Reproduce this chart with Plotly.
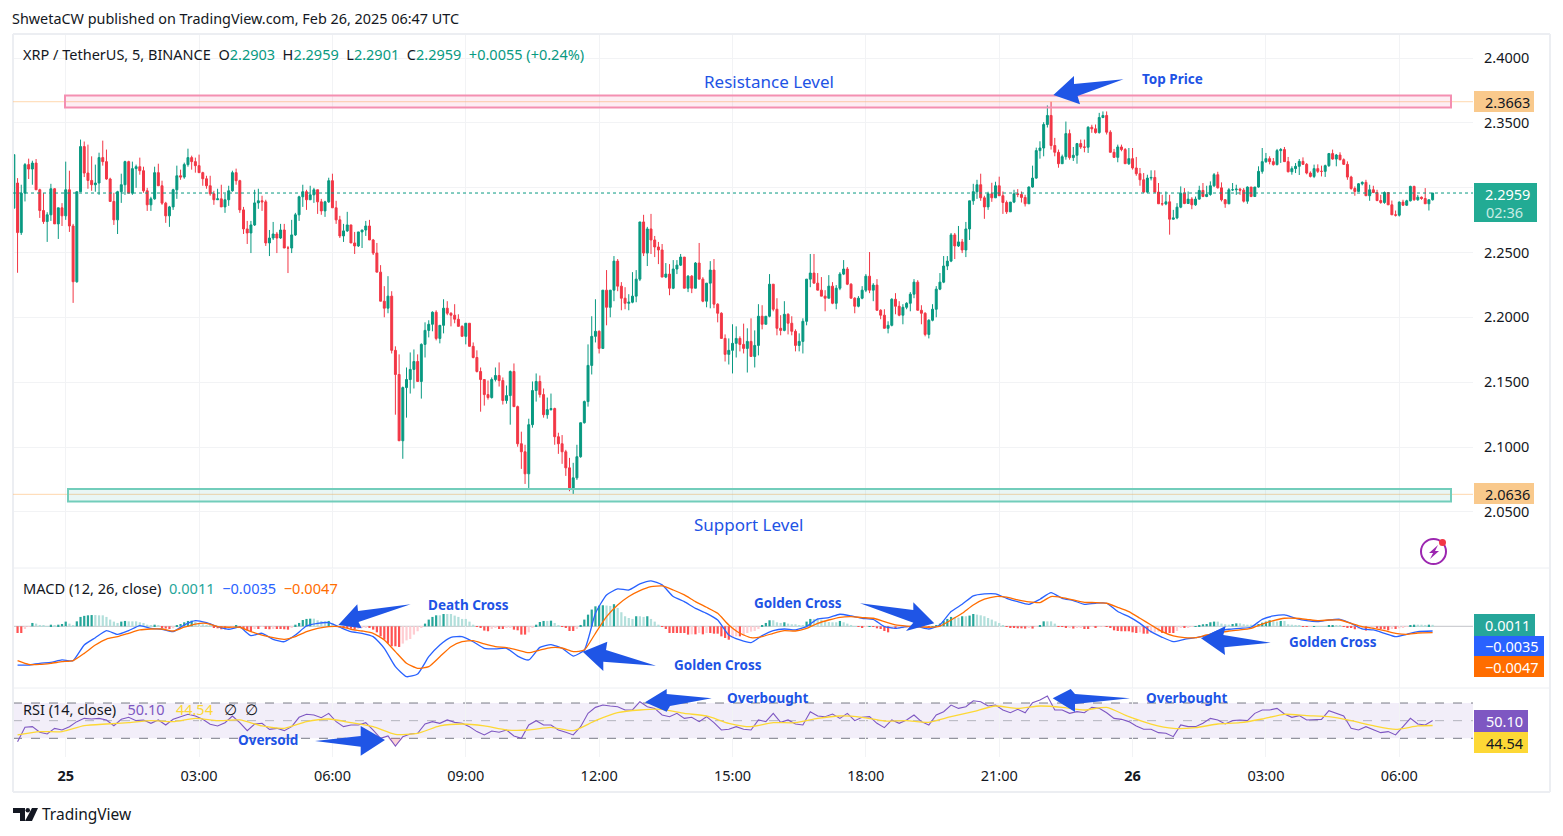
import pandas as pd
import plotly.graph_objects as go
from plotly.subplots import make_subplots

W, H = 1563, 836
FONT = "Noto Sans"
BLUE_TXT = "#1e53e5"
INK = "#131722"

# 5 minute candles
first_open = 2.3036
closes = [
    2.2654,2.2958,2.3178,2.3144,2.3190,2.2984,2.2824,2.2739,2.2791,2.2992,
    2.2721,2.2845,2.2783,2.2984,2.2705,2.2275,2.2969,2.3317,2.3113,2.3056,
    2.3023,2.3036,2.3232,2.3201,2.3067,2.2894,2.2752,2.2969,2.3023,2.3201,
    2.2958,2.3147,2.3162,2.3131,2.2976,2.2868,2.2914,2.3116,2.3015,2.2881,
    2.2783,2.2852,2.2984,2.3092,2.3082,2.3178,2.3232,2.3201,2.3170,2.3116,
    2.3069,2.3015,2.2953,2.2907,2.2914,2.2852,2.2907,2.2976,2.3116,2.3054,
    2.2829,2.2682,2.2651,2.2713,2.2883,2.2899,2.2891,2.2574,2.2612,2.2643,
    2.2612,2.2674,2.2535,2.2535,2.2636,2.2791,2.2930,2.2969,2.2907,2.2945,
    2.2984,2.2891,2.2821,2.2891,2.3054,2.2845,2.2752,2.2628,2.2667,2.2713,
    2.2574,2.2551,2.2659,2.2674,2.2705,2.2597,2.2496,2.2349,2.2125,2.2071,
    2.2164,2.1746,2.1560,2.1049,2.1459,2.1521,2.1599,2.1660,2.1506,2.1792,
    2.1900,2.1947,2.2040,2.1838,2.1939,2.2071,2.2032,2.2017,2.1986,2.1931,
    2.1854,2.1955,2.1777,2.1691,2.1583,2.1521,2.1405,2.1382,2.1521,2.1552,
    2.1513,2.1359,2.1397,2.1583,2.1312,2.1026,2.0964,2.0794,2.1173,2.1436,
    2.1506,2.1405,2.1250,2.1289,2.1297,2.1080,2.1026,2.0964,2.0840,2.0685,
    2.0763,2.0926,2.1188,2.1351,2.1630,2.1854,2.1893,2.1761,2.2210,2.2078,
    2.2210,2.2434,2.2241,2.2148,2.2109,2.2117,2.2164,2.2295,2.2736,2.2496,
    2.2682,2.2597,2.2543,2.2520,2.2311,2.2334,2.2225,2.2373,2.2403,2.2465,
    2.2225,2.2318,2.2225,2.2419,2.2295,2.2125,2.2264,2.2365,2.2102,2.2032,
    2.1838,2.1715,2.1746,2.1800,2.1838,2.1792,2.1761,2.1815,2.1699,2.1784,
    2.2009,2.1947,2.2009,2.2256,2.2063,2.1916,2.1900,2.2024,2.1955,2.1893,
    2.1784,2.1815,2.1970,2.2295,2.2342,2.2264,2.2210,2.2164,2.2148,2.2241,
    2.2109,2.2225,2.2334,2.2373,2.2256,2.2148,2.2086,2.2148,2.2210,2.2318,
    2.2210,2.2249,2.2055,2.2017,2.1916,2.1939,2.2140,2.2086,2.2017,2.2078,
    2.2109,2.2179,2.2272,2.2055,2.2032,2.1869,2.1978,2.2063,2.2218,2.2272,
    2.2396,2.2434,2.2636,2.2551,2.2582,2.2520,2.2682,2.2899,2.2969,2.3023,
    2.2922,2.2852,2.2953,2.2922,2.3015,2.2938,2.2886,2.2814,2.2889,2.2953,
    2.2948,2.2925,2.2876,2.3005,2.3074,2.3286,2.3306,2.3487,2.3557,2.3325,
    2.3273,2.3185,2.3239,2.3417,2.3232,2.3250,2.3340,2.3314,2.3312,2.3466,
    2.3454,2.3425,2.3541,2.3557,2.3428,2.3273,2.3234,2.3314,2.3294,2.3185,
    2.3224,2.3152,2.3108,2.3061,2.2966,2.3074,2.3079,2.2966,2.2876,2.2875,
    2.2891,2.2757,2.2767,2.2850,2.2958,2.2878,2.2912,2.2868,2.2912,2.2979,
    2.2932,2.2948,2.3015,2.3100,2.2999,2.2907,2.2876,2.2984,2.2984,2.2989,
    2.2981,2.2896,2.3005,2.2932,2.3005,2.3126,2.3201,2.3224,2.3201,2.3178,
    2.3286,2.3294,2.3201,2.3123,2.3147,2.3165,2.3203,2.3180,2.3113,2.3087,
    2.3147,2.3126,2.3126,2.3170,2.3263,2.3221,2.3252,2.3216,2.3180,2.3082,
    2.2994,2.2971,2.3030,2.3041,2.2938,2.2984,2.2963,2.2901,2.2886,2.2963,
    2.2868,2.2791,2.2788,2.2889,2.2865,2.2899,2.3010,2.2907,2.2927,2.2917,
    2.2876,2.2907,2.2959,
]
highs = [
    2.3074,2.3023,2.3190,2.3224,2.3208,2.3221,2.2992,2.2958,2.2811,2.3030,
    2.2997,2.2845,2.2881,2.3201,2.3131,2.2721,2.2969,2.3371,2.3356,2.3332,
    2.3242,2.3178,2.3270,2.3363,2.3294,2.3077,2.2961,2.2976,2.3108,2.3208,
    2.3208,2.3201,2.3178,2.3232,2.3162,2.2999,2.2930,2.3162,2.3185,2.3054,
    2.2891,2.2860,2.2992,2.3170,2.3139,2.3193,2.3301,2.3247,2.3232,2.3255,
    2.3123,2.3092,2.3092,2.2976,2.2992,2.3023,2.2953,2.3015,2.3131,2.3147,
    2.3061,2.2852,2.2744,2.2744,2.2984,2.2992,2.2938,2.2907,2.2674,2.2736,
    2.2659,2.2721,2.2721,2.2551,2.2752,2.2806,2.2938,2.3023,2.2984,2.3015,
    2.2999,2.2984,2.2914,2.2899,2.3077,2.3108,2.2899,2.2783,2.2721,2.2814,
    2.2713,2.2659,2.2659,2.2674,2.2744,2.2752,2.2605,2.2574,2.2403,2.2241,
    2.2318,2.2202,2.1777,2.1715,2.1467,2.1614,2.1730,2.1753,2.1715,2.1800,
    2.1962,2.1978,2.2047,2.2055,2.1939,2.2140,2.2125,2.2040,2.2102,2.2024,
    2.1939,2.1955,2.1955,2.1807,2.1746,2.1614,2.1521,2.1513,2.1537,2.1614,
    2.1653,2.1537,2.1475,2.1591,2.1645,2.1320,2.1119,2.1018,2.1219,2.1506,
    2.1568,2.1552,2.1452,2.1382,2.1413,2.1304,2.1111,2.1093,2.0979,2.0917,
    2.0879,2.1018,2.1188,2.1359,2.1792,2.2009,2.2140,2.1900,2.2210,2.2365,
    2.2210,2.2473,2.2450,2.2272,2.2233,2.2179,2.2349,2.2365,2.2736,2.2791,
    2.2698,2.2798,2.2628,2.2582,2.2566,2.2419,2.2411,2.2442,2.2442,2.2489,
    2.2465,2.2326,2.2326,2.2427,2.2574,2.2310,2.2264,2.2434,2.2450,2.2109,
    2.2040,2.1869,2.1838,2.1947,2.1931,2.1854,2.1952,2.1916,2.1993,2.1900,
    2.2102,2.2094,2.2009,2.2334,2.2256,2.2148,2.2017,2.2125,2.2032,2.2009,
    2.1908,2.1877,2.1993,2.2295,2.2489,2.2489,2.2342,2.2311,2.2210,2.2326,
    2.2272,2.2249,2.2349,2.2442,2.2388,2.2264,2.2156,2.2164,2.2241,2.2334,
    2.2504,2.2264,2.2295,2.2063,2.2063,2.1970,2.2148,2.2187,2.2125,2.2102,
    2.2117,2.2195,2.2295,2.2287,2.2094,2.2040,2.1986,2.2102,2.2241,2.2342,
    2.2473,2.2473,2.2651,2.2651,2.2705,2.2605,2.2736,2.2899,2.3030,2.3061,
    2.3108,2.2938,2.2969,2.3038,2.3046,2.3085,2.2971,2.2901,2.2889,2.2984,
    2.2989,2.2971,2.2945,2.3010,2.3170,2.3309,2.3358,2.3505,2.3634,2.3663,
    2.3384,2.3294,2.3255,2.3510,2.3448,2.3314,2.3345,2.3371,2.3371,2.3474,
    2.3485,2.3487,2.3577,2.3588,2.3588,2.3443,2.3299,2.3332,2.3332,2.3306,
    2.3306,2.3306,2.3237,2.3152,2.3113,2.3100,2.3134,2.3134,2.3036,2.2945,
    2.2971,2.2945,2.2829,2.2881,2.3010,2.2997,2.2971,2.2927,2.2932,2.3015,
    2.3036,2.3015,2.3049,2.3113,2.3123,2.3041,2.2912,2.2997,2.3036,2.3023,
    2.2999,2.2997,2.3010,2.3005,2.3005,2.3165,2.3306,2.3268,2.3242,2.3229,
    2.3299,2.3306,2.3314,2.3237,2.3165,2.3190,2.3221,2.3234,2.3190,2.3126,
    2.3178,2.3180,2.3170,2.3178,2.3268,2.3294,2.3260,2.3273,2.3226,2.3203,
    2.3092,2.3010,2.3036,2.3049,2.3061,2.3023,2.3015,2.2984,2.2945,2.2971,
    2.2966,2.2901,2.2824,2.2894,2.2907,2.2907,2.3015,2.3015,2.2945,2.2932,
    2.2997,2.2907,2.2959,
]
lows = [
    2.2344,2.2636,2.2894,2.3067,2.3023,2.2984,2.2767,2.2721,2.2582,2.2744,
    2.2721,2.2605,2.2705,2.2752,2.2659,2.2112,2.2267,2.2966,2.3082,2.2992,
    2.2976,2.2969,2.2945,2.3170,2.3061,2.2894,2.2713,2.2643,2.2883,2.2945,
    2.2958,2.2945,2.2999,2.3100,2.2961,2.2821,2.2821,2.2907,2.3015,2.2868,
    2.2729,2.2698,2.2829,2.2914,2.3061,2.3069,2.3162,2.3139,2.3116,2.3116,
    2.3015,2.2992,2.2938,2.2868,2.2907,2.2852,2.2806,2.2860,2.2969,2.3023,
    2.2806,2.2643,2.2566,2.2496,2.2705,2.2837,2.2821,2.2551,2.2473,2.2597,
    2.2496,2.2605,2.2535,2.2342,2.2496,2.2628,2.2744,2.2852,2.2829,2.2907,
    2.2883,2.2798,2.2791,2.2775,2.2883,2.2845,2.2721,2.2612,2.2582,2.2659,
    2.2574,2.2489,2.2543,2.2535,2.2628,2.2597,2.2481,2.2349,2.2125,2.2001,
    2.2032,2.1722,2.1250,2.1049,2.0910,2.1227,2.1413,2.1452,2.1506,2.1374,
    2.1691,2.1846,2.1893,2.1823,2.1800,2.1877,2.2017,2.1931,2.1955,2.1931,
    2.1854,2.1792,2.1777,2.1684,2.1575,2.1273,2.1320,2.1366,2.1374,2.1506,
    2.1467,2.1328,2.1335,2.1173,2.1312,2.1003,2.0832,2.0716,2.0685,2.1150,
    2.1351,2.1382,2.1227,2.1219,2.1281,2.1018,2.0948,2.0871,2.0778,2.0660,
    2.0639,2.0747,2.0918,2.1181,2.1312,2.1560,2.1807,2.1722,2.1761,2.1939,
    2.2001,2.2125,2.2202,2.2055,2.2063,2.2055,2.2109,2.2117,2.2280,2.2473,
    2.2396,2.2489,2.2465,2.2411,2.2311,2.2303,2.2171,2.2218,2.2334,2.2396,
    2.2225,2.2195,2.2187,2.2225,2.2295,2.2117,2.2078,2.2070,2.2071,2.1962,
    2.1838,2.1660,2.1637,2.1568,2.1691,2.1738,2.1722,2.1575,2.1699,2.1614,
    2.1707,2.1908,2.1947,2.2001,2.2047,2.1862,2.1862,2.1893,2.1869,2.1862,
    2.1738,2.1738,2.1722,2.1939,2.2233,2.2264,2.2210,2.2164,2.2047,2.2148,
    2.2102,2.2063,2.2210,2.2326,2.2249,2.2148,2.2032,2.2078,2.2140,2.2195,
    2.2187,2.2125,2.2055,2.1986,2.1916,2.1877,2.1931,2.2024,2.2009,2.1947,
    2.2063,2.2047,2.2148,2.2055,2.1947,2.1854,2.1838,2.1970,2.2001,2.2210,
    2.2264,2.2365,2.2426,2.2450,2.2543,2.2496,2.2465,2.2597,2.2868,2.2914,
    2.2899,2.2760,2.2829,2.2891,2.2922,2.2938,2.2798,2.2798,2.2814,2.2881,
    2.2927,2.2886,2.2855,2.2876,2.3000,2.3069,2.3224,2.3242,2.3464,2.3294,
    2.3242,2.3154,2.3185,2.3216,2.3216,2.3206,2.3185,2.3299,2.3273,2.3268,
    2.3423,2.3417,2.3417,2.3536,2.3410,2.3273,2.3229,2.3196,2.3281,2.3185,
    2.3175,2.3139,2.3092,2.3015,2.2958,2.2958,2.3056,2.2963,2.2876,2.2860,
    2.2865,2.2638,2.2754,2.2757,2.2842,2.2873,2.2876,2.2834,2.2860,2.2907,
    2.2927,2.2927,2.2938,2.3005,2.2994,2.2894,2.2845,2.2873,2.2974,2.2945,
    2.2945,2.2886,2.2876,2.2927,2.2932,2.3000,2.3108,2.3191,2.3180,2.3170,
    2.3172,2.3191,2.3201,2.3118,2.3100,2.3113,2.3098,2.3175,2.3103,2.3079,
    2.3074,2.3113,2.3087,2.3083,2.3160,2.3216,2.3165,2.3211,2.3175,2.3061,
    2.2984,2.2938,2.2968,2.3018,2.2938,2.2899,2.2958,2.2896,2.2876,2.2876,
    2.2868,2.2791,2.2778,2.2778,2.2860,2.2860,2.2894,2.2899,2.2899,2.2907,
    2.2876,2.2824,2.2901,
]
opens = [first_open] + closes[:-1]

# the candle cut off by the left edge of the pane
clipped_bar = dict(open=2.2842, high=2.3255, low=2.2842, close=2.3255)

# MACD lines, read every 3rd bar (plus the last one)
macd_bars = list(range(0, 380, 3)) + [382]
macd_line = [
    -.0289,-.0289,-.0276,-.0269,-.0251,-.0256,-.0139,-.0085,-.0032,-.0060,
    -.0032,.0005,-.0015,-.0022,-.0040,.0010,.0042,.0027,-.0002,-.0022,
    -.0007,-.0070,-.0052,-.0097,-.0115,-.0065,.0002,.0022,.0027,-.0007,
    -.0040,-.0052,-.0077,-.0164,-.0301,-.0376,-.0356,-.0227,-.0139,-.0082,
    -.0077,-.0115,-.0164,-.0169,-.0164,-.0222,
    -.0251,-.0157,-.0137,-.0164,-.0222,-.0177,.0097,.0234,.0279,.0271,
    .0316,.0339,.0309,.0222,.0184,.0134,.0097,.0047,-.0065,-.0102,
    -.0122,-.0070,-.0032,-.0020,-.0027,-.0002,.0055,.0065,.0090,.0077,
    .0060,.0052,-.0002,-.0015,-.0002,-.0002,-.0020,.0010,.0110,.0164,
    .0227,.0242,.0242,.0209,.0184,.0164,.0202,
    .0251,.0209,.0192,.0164,.0172,.0172,.0110,.0072,.0022,-.0040,
    -.0082,-.0115,-.0097,-.0085,-.0070,-.0035,-.0022,-.0015,-.0007,.0052,
    .0077,.0085,.0060,.0042,.0035,.0047,.0052,.0022,-.0020,-.0027,
    -.0052,-.0077,-.0060,-.0040,-.0035,
]
signal_line = [
    -.0256,-.0284,-.0284,-.0276,-.0264,-.0256,-.0202,-.0139,-.0095,-.0077,
    -.0052,-.0027,-.0020,-.0020,-.0035,-.0007,.0017,.0022,-.0002,-.0007,
    -.0007,-.0040,-.0065,-.0085,-.0097,-.0077,-.0040,-.0015,-.0002,-.0002,
    -.0022,-.0035,-.0052,-.0102,-.0189,-.0276,-.0314,-.0301,-.0227,-.0152,
    -.0115,-.0107,-.0132,-.0152,-.0159,-.0177,
    -.0197,-.0177,-.0159,-.0162,-.0189,-.0177,-.0052,.0072,.0159,.0222,
    .0266,.0296,.0301,.0271,.0234,.0184,.0142,.0097,.0010,-.0052,
    -.0085,-.0077,-.0052,-.0032,-.0035,-.0015,.0022,.0047,.0067,.0072,
    .0065,.0060,.0035,.0010,.0002,-.0002,-.0007,.0002,.0047,.0097,
    .0159,.0202,.0222,.0217,.0197,.0182,.0177,
    .0222,.0214,.0197,.0179,.0177,.0172,.0142,.0110,.0060,.0010,
    -.0040,-.0072,-.0085,-.0085,-.0065,-.0052,-.0035,-.0027,-.0015,.0017,
    .0042,.0060,.0060,.0052,.0042,.0047,.0047,.0022,-.0002,-.0015,
    -.0032,-.0052,-.0060,-.0050,-.0047,
]
# histogram, one value per bar
macd_hist = [
    -.0050,-.0050,-.0020,-.0005,.0025,.0020,.0010,.0007,.0002,.0012,.0007,.0012,.0017,.0035,.0020,.0007,
    .0037,.0070,.0078,.0082,.0084,.0084,.0082,.0082,.0070,.0050,.0035,.0025,.0035,.0040,.0037,.0037,
    .0037,.0030,.0025,.0012,.0007,.0012,.0005,-.0007,-.0017,-.0020,-.0015,.0007,.0017,.0030,.0040,.0042,
    .0035,.0025,.0015,.0010,.0007,-.0007,-.0015,-.0022,-.0022,-.0012,-.0005,.0007,-.0007,-.0020,-.0030,-.0040,
    -.0020,-.0020,-.0005,-.0020,-.0022,-.0020,-.0020,-.0020,-.0022,-.0025,-.0007,.0012,.0025,.0047,.0055,.0057,
    .0057,.0045,.0040,.0037,.0040,.0025,.0007,-.0005,-.0010,-.0012,-.0017,-.0022,-.0020,-.0012,-.0007,-.0012,
    -.0025,-.0045,-.0075,-.0100,-.0129,-.0149,-.0149,-.0154,-.0129,-.0105,-.0095,-.0062,-.0037,-.0012,.0020,.0050,
    .0070,.0082,.0082,.0092,.0092,.0092,.0080,.0070,.0055,.0055,.0035,.0012,-.0002,-.0012,-.0032,-.0037,
    -.0020,-.0012,-.0020,-.0020,-.0012,-.0007,-.0025,-.0030,
    -.0062,-.0062,-.0045,-.0007,.0012,.0032,.0040,.0040,.0042,.0025,.0010,-.0002,-.0007,-.0035,-.0035,-.0020,
    .0010,.0050,.0087,.0125,.0149,.0154,.0157,.0155,.0152,.0165,.0137,.0105,.0075,.0062,.0055,.0075,
    .0075,.0070,.0075,.0055,.0035,.0012,-.0002,-.0020,-.0050,-.0050,-.0050,-.0050,-.0050,-.0062,-.0060,-.0060,
    -.0050,-.0060,-.0050,-.0050,-.0055,-.0055,-.0075,-.0087,-.0100,-.0087,-.0075,-.0075,-.0070,-.0050,-.0040,-.0035,
    -.0020,.0007,.0025,.0045,.0045,.0030,.0025,.0030,.0020,.0015,.0015,.0007,.0005,.0035,.0055,.0055,
    .0055,.0050,.0042,.0032,.0030,.0030,.0040,.0030,.0020,.0010,.0002,-.0005,-.0007,-.0002,.0002,-.0005,
    -.0015,-.0020,-.0035,-.0045,-.0020,-.0020,-.0017,-.0015,-.0012,-.0010,-.0012,-.0007,-.0005,-.0002,-.0002,.0002,
    .0007,.0020,.0040,.0055,.0070,.0070,.0065,.0075,.0075,.0080,.0092,.0087,.0082,.0075,.0062,.0050,
    .0037,.0025,.0007,-.0005,-.0012,-.0012,-.0015,-.0015,-.0017,-.0012,-.0017,-.0002,.0007,
    .0037,.0037,.0037,.0020,-.0002,-.0005,-.0010,-.0007,-.0017,-.0010,-.0007,-.0020,-.0020,-.0005,-.0007,-.0002,
    -.0001,-.0005,-.0010,-.0030,-.0035,-.0037,-.0037,-.0037,-.0045,-.0050,-.0045,-.0055,-.0055,-.0050,-.0045,-.0040,
    -.0050,-.0050,-.0050,-.0050,-.0035,-.0012,-.0012,-.0007,-.0002,.0002,.0010,.0015,.0017,.0030,.0035,.0035,
    .0020,.0015,.0012,.0017,.0022,.0022,.0015,.0012,.0012,.0012,.0017,.0027,.0035,.0045,.0040,.0035,
    .0040,.0040,.0015,.0012,.0010,.0005,-.0002,-.0005,-.0002,.0002,.0002,.0002,.0002,.0005,.0007,.0007,
    .0005,-.0002,-.0007,-.0012,-.0022,-.0020,-.0012,-.0032,-.0025,-.0015,-.0015,-.0020,-.0022,-.0030,-.0020,-.0020,
    -.0015,-.0007,-.0002,.0007,.0012,.0012,.0012,.0010,.0012,.0011,
]

# RSI read every 2nd bar, its average every 6th bar
rsi_bars = list(range(0, 383, 2))
rsi_line = [
    26.2,42.5,43.2,36.8,34.9,41.3,39.4,43.2,48.9,52.6,51.9,52.6,50.8,44.3,51.5,53.8,50,50.8,47,50.8,
    45.1,51.5,54.5,57.2,55.3,51.5,45.9,44,47.7,55.3,47.7,38.7,46.2,47,40.2,41.3,38.7,43.2,53.8,57.2,
    56.4,53.4,58.3,48.9,43.2,45.1,45.1,47.7,39.4,30,32.7,21.3,31.9,34.9,35.7,46.2,48.9,47,50.8,48.1,
    47,43.2,37.6,33.8,38.3,36.8,39.4,32.7,
    30,45.1,50,45.1,45.1,39.4,36.8,33.8,43.2,58.3,65.1,67.7,66.6,65.8,62.1,62.1,71.5,65.8,63.9,56.4,
    54.5,58.3,52.6,53.8,48.9,54.5,47.7,39.4,40.2,43.2,40.2,39.4,50.8,48.9,58.3,48.1,50.8,46.2,45.1,60.2,
    55.3,54.5,57.5,52.6,58.3,50,53.8,54.5,47,42.1,50.8,47,50.8,56.4,48.9,45.1,56.4,60.2,67.7,63.9,
    65.8,72.6,71.5,66.6,67.7,62.1,59,62.8,59,70.4,73.4,
    77.9,62.1,62.1,58.3,60.2,59,65.1,63.9,59,52.6,51.5,48.9,44,40.2,40.2,36.4,35.7,31.9,45.1,43.2,
    43.2,47,52.6,50.8,46.2,50,50.8,50,58.3,62.1,62.1,63.9,57.5,53.8,55.7,50.8,51.5,51.5,61.3,58.3,
    55.3,41.3,39.4,43.2,39.4,36.4,37.6,33.8,43.2,52.6,46.2,45.1,50.1,
]
rsi_ma_bars = list(range(0, 380, 6)) + [382]
rsi_ma = [
    33.8,37.6,37.6,44.3,46.2,47.7,50,48.9,52.6,50,50.8,44,41.3,48.9,51.9,47.7,43.2,34.5,35.7,44,46.2,44,39.4,
    39.4,42.5,38.7,50,59,62.1,62.8,58.3,55.3,47,43.2,47.7,47.7,52.6,55.3,53.8,49.6,50,48.1,54.5,60.2,66.6,63.9,66.6,
    65.1,62.1,65.1,54.5,46.2,41.3,42.1,46.2,47.7,51.9,57.2,55.7,54.5,50,44.3,40.2,44,44.54,
]
# dip under the lower band
oversold_bars = [100, 102, 104]
oversold_vals = [30, 21.3, 30]

times = pd.date_range("2025-02-24 22:55", periods=len(closes), freq="5min")
bar_ms = pd.Timedelta(minutes=5)
candle_times = [times[0] - bar_ms] + list(times)

hist_colors = []
for i, v in enumerate(macd_hist):
    prev = macd_hist[i - 1] if i else v
    if v >= 0:
        hist_colors.append("#26a69a" if v > prev else "#b2dfdb")
    else:
        hist_colors.append("#ffcdd2" if v > prev else "#ff5252")

tick_times = ["2025-02-25 00:00", "2025-02-25 03:00", "2025-02-25 06:00", "2025-02-25 09:00",
              "2025-02-25 12:00", "2025-02-25 15:00", "2025-02-25 18:00", "2025-02-25 21:00",
              "2025-02-26 00:00", "2025-02-26 03:00", "2025-02-26 06:00"]
tick_text = ["<b>25</b>", "03:00", "06:00", "09:00", "12:00", "15:00", "18:00", "21:00",
             "<b>26</b>", "03:00", "06:00"]
price_ticks = [2.05, 2.10, 2.15, 2.20, 2.25, 2.30, 2.35, 2.40]


def px(x):
    return x / W


def py(y):
    return 1 - y / H


fig = make_subplots(rows=3, cols=1, shared_xaxes=True)

fig.add_trace(go.Candlestick(
    x=candle_times,
    open=[clipped_bar["open"]] + opens, high=[clipped_bar["high"]] + highs,
    low=[clipped_bar["low"]] + lows, close=[clipped_bar["close"]] + closes,
    increasing=dict(line=dict(color="#089981", width=1), fillcolor="#089981"),
    decreasing=dict(line=dict(color="#f23645", width=1), fillcolor="#f23645"),
    whiskerwidth=0, showlegend=False), row=1, col=1)

fig.add_trace(go.Bar(x=times, y=macd_hist, marker=dict(color=hist_colors, line_width=0),
                     width=bar_ms.total_seconds() * 1000 * 0.6, showlegend=False), row=2, col=1)
fig.add_trace(go.Scatter(x=times[macd_bars], y=macd_line, mode="lines",
                         line=dict(color="#2962ff", width=1.3, shape="spline", smoothing=0.5),
                         showlegend=False), row=2, col=1)
fig.add_trace(go.Scatter(x=times[macd_bars], y=signal_line, mode="lines",
                         line=dict(color="#ff6d00", width=1.3, shape="spline", smoothing=0.5),
                         showlegend=False), row=2, col=1)

fig.add_trace(go.Scatter(x=times[oversold_bars], y=oversold_vals, mode="none", fill="toself",
                         fillcolor="rgba(242,54,69,0.22)", showlegend=False), row=3, col=1)
fig.add_trace(go.Scatter(x=times[rsi_bars], y=rsi_line, mode="lines",
                         line=dict(color="#7e57c2", width=1.1), showlegend=False), row=3, col=1)
fig.add_trace(go.Scatter(x=times[rsi_ma_bars], y=rsi_ma, mode="lines",
                         line=dict(color="#fdd835", width=1.3, shape="spline", smoothing=0.6),
                         showlegend=False), row=3, col=1)

grid = "#f2f3f5"
fig.update_xaxes(type="date", range=[times[0] - 1.23 * bar_ms, times[0] + 392.9 * bar_ms],
                 tickmode="array", tickvals=tick_times, ticktext=tick_text,
                 showgrid=True, gridcolor=grid, gridwidth=1, zeroline=False,
                 showline=False, ticks="", rangeslider_visible=False,
                 tickfont=dict(family=FONT, size=14.5, color=INK), ticklabelstandoff=8,
                 domain=[px(13), px(1473)])

fig.update_yaxes(side="right", showline=False, zeroline=False, ticks="")
fig.update_yaxes(row=1, col=1, domain=[py(568), py(34)], range=[2.0068, 2.4185],
                 tickmode="array", tickvals=price_ticks, tickformat=".4f",
                 tickfont=dict(family=FONT, size=14.5, color=INK), ticklabelstandoff=10,
                 gridcolor=grid, showgrid=True)
fig.update_yaxes(row=2, col=1, domain=[py(688), py(569)], range=[-0.04604, 0.04276],
                 showticklabels=False, showgrid=False)
fig.update_yaxes(row=3, col=1, domain=[py(757), py(689)], range=[8.8, 85.9],
                 showticklabels=False, showgrid=False)

shapes = []
# pane frames
frame = "#eceef2"
for y0, y1 in [(34, 34), (568, 568), (688, 688), (792, 792)]:
    shapes.append(dict(type="line", xref="paper", yref="paper", x0=px(13), x1=px(1550), y0=py(y0), y1=py(y1),
                       line=dict(color=frame, width=2 if y0 in (34, 792) else 1)))
for x in (13, 1550):
    shapes.append(dict(type="line", xref="paper", yref="paper", x0=px(x), x1=px(x), y0=py(34), y1=py(792),
                       line=dict(color=frame, width=2)))

# RSI band and levels
shapes.append(dict(type="rect", xref="x3 domain", yref="y3", x0=0, x1=1, y0=30, y1=70, layer="below",
                   line_width=0, fillcolor="rgba(126,87,194,0.1)"))
for lvl, col in [(70, "#787b86"), (50, "rgba(120,123,134,0.5)"), (30, "#787b86")]:
    shapes.append(dict(type="line", xref="x3 domain", yref="y3", x0=0, x1=1, y0=lvl, y1=lvl, layer="below",
                       line=dict(color=col, width=1, dash="dash")))
# MACD zero line
shapes.append(dict(type="line", xref="x2 domain", yref="y2", x0=0, x1=1, y0=0, y1=0, layer="below",
                   line=dict(color="rgba(120,123,134,0.45)", width=1)))

# price lines
for lvl in (2.3663, 2.0636):
    shapes.append(dict(type="line", xref="x domain", yref="y", x0=0, x1=1, y0=lvl, y1=lvl,
                       line=dict(color="rgba(255,190,120,0.6)", width=1)))
shapes.append(dict(type="line", xref="x domain", yref="y", x0=0, x1=1, y0=2.2959, y1=2.2959,
                   line=dict(color="#089981", width=1, dash="dot")))

# drawn zones
shapes.append(dict(type="rect", xref="paper", yref="paper", x0=px(65), x1=px(1451), y0=py(95.5), y1=py(107.5),
                   line=dict(color="#f48fb1", width=2), fillcolor="rgba(233,30,99,0.08)"))
shapes.append(dict(type="rect", xref="paper", yref="paper", x0=px(68), x1=px(1451), y0=py(489), y1=py(501.5),
                   line=dict(color="#72cdbb", width=2), fillcolor="rgba(8,153,129,0.09)"))


def poly(points, color="#1f55e6"):
    d = "M " + " L ".join(f"{px(a):.5f},{py(b):.5f}" for a, b in points) + " Z"
    return dict(type="path", xref="paper", yref="paper", path=d, fillcolor=color, line_width=0)


# hand drawn arrows
arrows = [
    [(1123.5, 79.3), (1074, 84), (1074, 76), (1053.4, 95), (1080, 104.3), (1077.6, 96)],
    [(410.7, 604.3), (358, 611), (357.3, 604.3), (338.3, 625), (361.7, 628.3), (358.5, 622)],
    [(582.7, 651.7), (607.3, 641.7), (606, 650), (656, 665.7), (603.3, 661.7), (603.3, 671)],
    [(860, 603.3), (913.3, 610), (913.3, 602.3), (934.3, 623.3), (906, 631), (913.3, 622.7)],
    [(645, 702.3), (666.7, 689), (666.7, 694), (711.7, 698.3), (670, 706), (666.7, 711.7)],
    [(1052.7, 698.3), (1070.7, 689), (1075, 694), (1130, 698.3), (1075, 704), (1075, 712)],
    [(1201, 638.3), (1225.7, 626), (1223.3, 635), (1270.7, 642.7), (1224.3, 647.3), (1225, 655)],
    [(315, 741), (360.7, 736), (360.7, 726), (385, 740), (360.7, 755.7), (360.7, 746.7)],
]
shapes += [poly(a) for a in arrows]

# value tags on the right
tags = [
    (1474, 1534, 91, 112, "#f9c98c"), (1474, 1537, 183, 222, "#22ab94"),
    (1474, 1534, 483, 504, "#f9c98c"),
    (1474, 1535, 614, 636, "#26a69a"), (1474, 1544, 636, 656, "#2962ff"), (1474, 1544, 656, 677, "#ff6d00"),
    (1474, 1528, 710, 732, "#7e57c2"), (1474, 1528, 732, 753, "#fdd835"),
]
for x0, x1, y0, y1, col in tags:
    shapes.append(dict(type="rect", xref="paper", yref="paper", x0=px(x0), x1=px(x1), y0=py(y0), y1=py(y1),
                       fillcolor=col, line_width=0))

# lightning badge
shapes.append(dict(type="circle", xref="paper", yref="paper", x0=px(1421), x1=px(1446), y0=py(539), y1=py(564),
                   line=dict(color="#9c27b0", width=2), fillcolor="white"))
shapes.append(poly([(1438, 545), (1429, 553), (1433, 553), (1430, 559), (1439, 551), (1435, 551)], "#9c27b0"))
shapes.append(dict(type="circle", xref="paper", yref="paper", x0=px(1439), x1=px(1446), y0=py(539), y1=py(546),
                   line_width=0, fillcolor="#f23645"))

# TradingView logo
shapes.append(poly([(13, 808), (25, 808), (25, 821), (20, 821), (20, 813), (13, 813)], "#131722"))
shapes.append(dict(type="circle", xref="paper", yref="paper", x0=px(25.5), x1=px(30), y0=py(808), y1=py(812.5),
                   fillcolor="#131722", line_width=0))
shapes.append(poly([(32, 808), (38, 808), (32, 821), (25, 821)], "#131722"))


def label(x, y, text, size=14, color=INK, anchor="left"):
    nudge = {"left": -2, "right": 2, "center": 0}[anchor]
    return dict(xref="paper", yref="paper", x=px(x + nudge), y=py(y - 0.4), text=text, showarrow=False,
                xanchor=anchor, yanchor="middle", align=anchor,
                font=dict(family=FONT, size=size, color=color))


green = "#089981"


def g(text):
    return f'<span style="color:{green}">{text}</span>'


def b(text):
    return f"<b>{text}</b>"


annotations = [
    label(12, 19, "ShwetaCW published on TradingView.com, Feb 26, 2025 06:47 UTC", 14.4),
    label(23, 54, "XRP / TetherUS, 5, BINANCE  O" + g("2.2903") + "  H" + g("2.2959") + "  L" + g("2.2901")
          + "  C" + g("2.2959") + "  " + g("+0.0055 (+0.24%)"), 14.5),
    label(23, 588, 'MACD (12, 26, close)  <span style="color:#26a69a">0.0011</span>  '
          '<span style="color:#2962ff">−0.0035</span>  <span style="color:#ff6d00">−0.0047</span>', 14.6),
    label(23, 709, 'RSI (14, close)   <span style="color:#7e57c2">50.10</span>   '
          '<span style="color:#fdd835">44.54</span>   ∅  ∅', 14.5),
    label(42, 814, "TradingView", 15.5),
    label(769, 82, "Resistance Level", 17, BLUE_TXT, "center"),
    label(748, 525, "Support Level", 17, BLUE_TXT, "center"),
    label(1172, 79, b("Top Price"), 13.5, BLUE_TXT, "center"),
    label(468, 605, b("Death Cross"), 13.5, BLUE_TXT, "center"),
    label(718, 665, b("Golden Cross"), 13.5, BLUE_TXT, "center"),
    label(798, 603, b("Golden Cross"), 13.5, BLUE_TXT, "center"),
    label(1333, 642, b("Golden Cross"), 13.5, BLUE_TXT, "center"),
    label(768, 698, b("Overbought"), 13.5, BLUE_TXT, "center"),
    label(1187, 698, b("Overbought"), 13.5, BLUE_TXT, "center"),
    label(268, 740, b("Oversold"), 13.5, BLUE_TXT, "center"),
    label(1530, 102, "2.3663", 14.5, INK, "right"),
    label(1530, 494, "2.0636", 14.5, INK, "right"),
    label(1530, 194, "2.2959", 14.5, "white", "right"),
    label(1523, 212, "02:36", 14.5, "#c8ece4", "right"),
    label(1530, 625, "0.0011", 14.5, "white", "right"),
    label(1539, 646, "−0.0035", 14.5, "white", "right"),
    label(1539, 667, "−0.0047", 14.5, "white", "right"),
    label(1523, 721, "50.10", 14.5, "white", "right"),
    label(1523, 743, "44.54", 14.5, INK, "right"),
]

fig.update_layout(width=W, height=H, margin=dict(l=0, r=0, t=0, b=0), autosize=False,
                  paper_bgcolor="white", plot_bgcolor="white", showlegend=False,
                  xaxis_rangeslider_visible=False, shapes=shapes, annotations=annotations,
                  barmode="overlay", boxgap=0.25, hovermode=False)

fig.write_html("out.html", config={"displayModeBar": False},
               post_script="document.body.style.margin='0';document.body.style.overflow='hidden';")
